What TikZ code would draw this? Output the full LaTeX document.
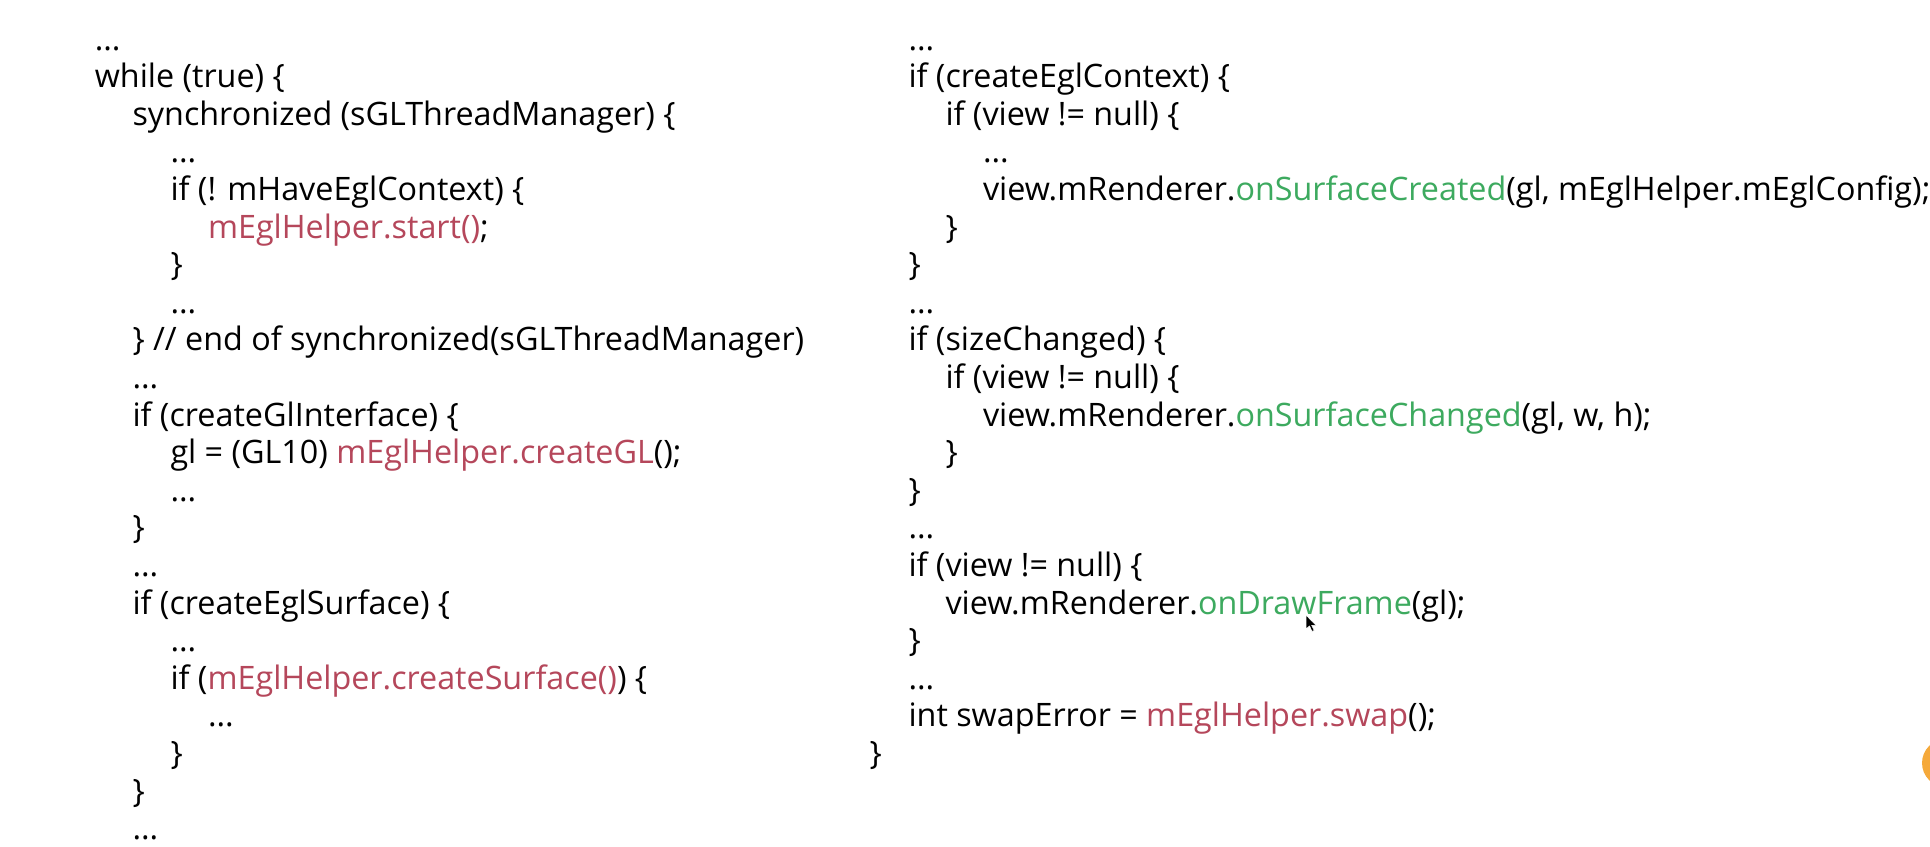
\documentclass[tikz,border=0pt]{standalone}
\usepackage{fontspec}
\setmainfont{Open Sans}
\definecolor{fncol}{HTML}{B5475B}
\definecolor{cbcol}{HTML}{3DAA5F}
\definecolor{dotcol}{HTML}{F5A93A}
\newcommand{\fn}[1]{\textcolor{fncol}{#1}}
\newcommand{\cb}[1]{\textcolor{cbcol}{#1}}
\newcommand{\cl}[4]{\node[codeline] (#1) at (#2,{50+37.6*#3}) {#4};}
\begin{document}
\begin{tikzpicture}[x=1pt,y=-1pt,
  codeline/.style={anchor=base west,inner sep=0pt,outer sep=0pt,
    font=\fontsize{32.3}{38}\selectfont,text=black}]
\useasboundingbox[fill=white] (0,0) rectangle (1930,846);
\begin{scope}
\clip (0,0) rectangle (1930,846);
\fill[dotcol] (1946,763) circle (24);
\end{scope}
% left column
\def\La{94.8}\def\Lb{132.5}\def\Lc{170.5}\def\Ld{208}
\cl{L0}{\La}{0}{...}
\cl{L1}{\La}{1}{while (true) \{}
\cl{L2}{\Lb}{2}{synchronized (sGLThreadManager) \{}
\cl{L3}{\Lc}{3}{...}
\cl{L4}{\Lc}{4}{if (! mHaveEglContext) \{}
\cl{L5}{\Ld}{5}{\fn{mEglHelper.start()};}
\cl{L6}{\Lc}{6}{\}}
\cl{L7}{\Lc}{7}{...}
\cl{L8}{\Lb}{8}{\} // end of synchronized(sGLThreadManager)}
\cl{L9}{\Lb}{9}{...}
\cl{L10}{\Lb}{10}{if (createGlInterface) \{}
\cl{L11}{\Lc}{11}{gl = (GL10) \fn{mEglHelper.createGL}();}
\cl{L12}{\Lc}{12}{...}
\cl{L13}{\Lb}{13}{\}}
\cl{L14}{\Lb}{14}{...}
\cl{L15}{\Lb}{15}{if (createEglSurface) \{}
\cl{L16}{\Lc}{16}{...}
\cl{L17}{\Lc}{17}{if (\fn{mEglHelper.createSurface()}) \{}
\cl{L18}{\Ld}{18}{...}
\cl{L19}{\Lc}{19}{\}}
\cl{L20}{\Lb}{20}{\}}
\cl{L21}{\Lb}{21}{...}
% right column
\def\Ra{869.5}\def\Rb{908.5}\def\Rc{945.5}\def\Rd{983}
\cl{R0}{\Rb}{0}{...}
\cl{R1}{\Rb}{1}{if (createEglContext) \{}
\cl{R2}{\Rc}{2}{if (view != null) \{}
\cl{R3}{\Rd}{3}{...}
\cl{R4}{\Rd}{4}{view.mRenderer.\cb{onSurfaceCreated}(gl, mEglHelper.mEglConfig);}
\cl{R5}{\Rc}{5}{\}}
\cl{R6}{\Rb}{6}{\}}
\cl{R7}{\Rb}{7}{...}
\cl{R8}{\Rb}{8}{if (sizeChanged) \{}
\cl{R9}{\Rc}{9}{if (view != null) \{}
\cl{R10}{\Rd}{10}{view.mRenderer.\cb{onSurfaceChanged}(gl, w, h);}
\cl{R11}{\Rc}{11}{\}}
\cl{R12}{\Rb}{12}{\}}
\cl{R13}{\Rb}{13}{...}
\cl{R14}{\Rb}{14}{if (view != null) \{}
\cl{R15}{\Rc}{15}{view.mRenderer.\cb{onDrawFrame}(gl);}
\cl{R16}{\Rb}{16}{\}}
\cl{R17}{\Rb}{17}{...}
\cl{R18}{\Rb}{18}{int swapError = \fn{mEglHelper.swap}();}
\cl{R19}{\Ra}{19}{\}}
% mouse pointer
\filldraw[fill=black,draw=white,line width=0.6pt]
  (1306,615) -- (1306,629) -- (1309.5,626) -- (1312,631.5) -- (1314.2,630.5)
  -- (1311.7,625.3) -- (1316,625.3) -- cycle;
\end{tikzpicture}
\end{document}
